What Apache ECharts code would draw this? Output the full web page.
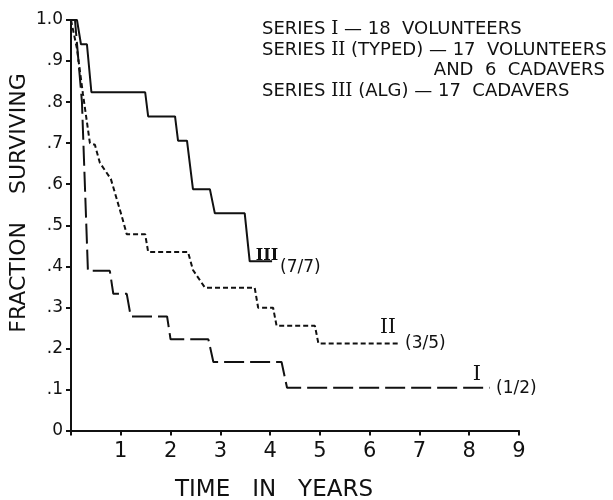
<!DOCTYPE html>
<html><head><meta charset="utf-8">
<script src="https://cdn.jsdelivr.net/npm/echarts@6/dist/echarts.min.js"></script>
<style>html,body{margin:0;padding:0;background:#fff}#c{width:613px;height:500px}</style>
</head><body><div id="c"></div>
<script>
// Series I (18 volunteers) - long dashes
const seriesI_t = [0, 0.08, 0.22, 0.34, 0.78, 0.85, 1.12, 1.20, 1.93, 2.00, 2.76, 2.86, 4.23, 4.34, 8.41];
const seriesI_s = [1.0, 1.0, 0.80, 0.389, 0.389, 0.333, 0.333, 0.278, 0.278, 0.222, 0.222, 0.167, 0.167, 0.104, 0.104];
// Series II (typed) - short dashes
const seriesII_t = [0, 0.12, 0.24, 0.38, 0.48, 0.58, 0.80, 1.02, 1.12, 1.49, 1.55, 2.35, 2.45, 2.69, 3.69, 3.76, 4.06, 4.13, 4.90, 4.97, 6.57];
const seriesII_s = [1.0, 0.93, 0.82, 0.70, 0.696, 0.652, 0.613, 0.522, 0.478, 0.478, 0.435, 0.435, 0.391, 0.348, 0.348, 0.299, 0.299, 0.255, 0.255, 0.212, 0.212];
// Series III (ALG) - solid
const seriesIII_t = [0, 0.12, 0.20, 0.32, 0.41, 1.49, 1.55, 2.09, 2.15, 2.33, 2.45, 2.79, 2.89, 3.49, 3.59, 4.04];
const seriesIII_s = [1.0, 1.0, 0.941, 0.941, 0.824, 0.824, 0.765, 0.765, 0.706, 0.706, 0.588, 0.588, 0.529, 0.529, 0.412, 0.412];

const xTickLabels = ['', '1', '2', '3', '4', '5', '6', '7', '8', '9'];
const yTickLabels = ['0', '.1', '.2', '.3', '.4', '.5', '.6', '.7', '.8', '.9', '1.0'];

const zip = (t, s) => t.map((v, i) => [v, s[i]]);
const FONT = 'DejaVu Sans';
const ROMAN = 'DejaVu Serif';
const ink = '#111';

const chart = echarts.init(document.getElementById('c'), null, {renderer: 'canvas'});
const lineBase = {type: 'line', symbol: 'none', animation: false, silent: true};
const romanRich = {r: {fontFamily: ROMAN, fontSize: 18, fill: ink}};
chart.setOption({
  backgroundColor: '#fff',
  animation: false,
  grid: {left: 71, right: 94, top: 20, bottom: 69.5},
  xAxis: {
    type: 'value', min: 0, max: 9, interval: 1,
    axisLine: {lineStyle: {color: ink, width: 2}},
    axisTick: {show: true, length: 5, lineStyle: {color: ink, width: 2}},
    axisLabel: {margin: 11, fontSize: 21, fontFamily: FONT, color: ink,
      formatter: v => xTickLabels[Math.round(v)]},
    splitLine: {show: false}
  },
  yAxis: {
    type: 'value', min: 0, max: 1, interval: 0.1,
    axisLine: {show: true, lineStyle: {color: ink, width: 2}},
    axisTick: {show: true, length: 5, lineStyle: {color: ink, width: 2}},
    axisLabel: {margin: 8, fontSize: 17, fontFamily: FONT, color: ink,
      formatter: v => yTickLabels[Math.round(v * 10)]},
    splitLine: {show: false}
  },
  series: [
    Object.assign({}, lineBase, {name: 'I', data: zip(seriesI_t, seriesI_s),
      lineStyle: {color: ink, width: 2, type: [20, 6]}}),
    Object.assign({}, lineBase, {name: 'II', data: zip(seriesII_t, seriesII_s),
      lineStyle: {color: ink, width: 2, type: [5, 3]}}),
    Object.assign({}, lineBase, {name: 'III', data: zip(seriesIII_t, seriesIII_s),
      lineStyle: {color: ink, width: 2, type: 'solid'}})
  ],
  graphic: [
    {type: 'text', left: 262, top: 20, style: {text: 'SERIES {r|I} — 18  VOLUNTEERS', font: '18px ' + FONT, fill: ink, rich: romanRich}},
    {type: 'text', left: 262, top: 41, style: {text: 'SERIES {r|II} (TYPED) — 17  VOLUNTEERS', font: '18px ' + FONT, fill: ink, rich: romanRich}},
    {type: 'text', right: 8, top: 61, style: {text: 'AND  6  CADAVERS', font: '18px ' + FONT, fill: ink}},
    {type: 'text', left: 262, top: 82, style: {text: 'SERIES {r|III} (ALG) — 17  CADAVERS', font: '18px ' + FONT, fill: ink, rich: romanRich}},
    {type: 'text', x: 19, y: 203, rotation: Math.PI / 2,
      style: {text: 'FRACTION    SURVIVING', font: '22px ' + FONT, fill: ink, align: 'center', verticalAlign: 'middle'}},
    {type: 'text', x: 274, y: 490,
      style: {text: 'TIME   IN   YEARS', font: '23px ' + FONT, fill: ink, align: 'center', verticalAlign: 'middle'}},
    {type: 'text', x: 267, y: 256, style: {text: 'III', font: 'bold 16px ' + ROMAN, fill: ink, align: 'center', verticalAlign: 'middle'}},
    {type: 'text', x: 280, y: 268, style: {text: '(7/7)', font: '17px ' + FONT, fill: ink, align: 'left', verticalAlign: 'middle'}},
    {type: 'text', x: 388, y: 328, style: {text: 'II', font: '20px ' + ROMAN, fill: ink, align: 'center', verticalAlign: 'middle'}},
    {type: 'text', x: 405, y: 344, style: {text: '(3/5)', font: '17px ' + FONT, fill: ink, align: 'left', verticalAlign: 'middle'}},
    {type: 'text', x: 477, y: 375, style: {text: 'I', font: '21px ' + ROMAN, fill: ink, align: 'center', verticalAlign: 'middle'}},
    {type: 'text', x: 496, y: 389, style: {text: '(1/2)', font: '17px ' + FONT, fill: ink, align: 'left', verticalAlign: 'middle'}}
  ]
});
</script></body></html>
